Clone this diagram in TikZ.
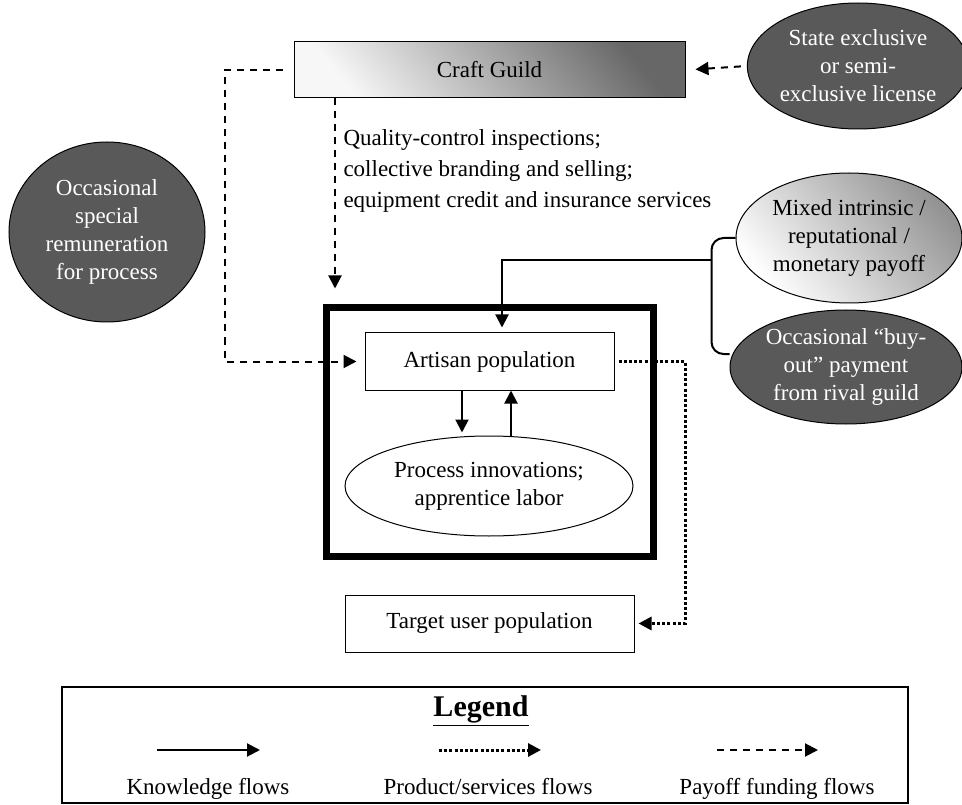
\documentclass[tikz,border=0pt]{standalone}
\usepackage{fontspec}
\setmainfont{Liberation Serif}
\usetikzlibrary{arrows.meta,positioning,shapes.geometric}

\definecolor{ovalgray}{HTML}{595959}
\definecolor{shadedark}{HTML}{676767}
\definecolor{shadelight}{HTML}{F7F7F7}

\newcommand{\legul}[1]{\vtop{\hbox{#1}\kern1.5pt\hrule height 1.6pt}}

\tikzset{
  txt/.style={font=\fontsize{23}{28}\selectfont, align=center},
  plainbox/.style={draw, line width=1pt, inner sep=0pt, txt},
  craftbox/.style={plainbox, top color=shadedark, bottom color=shadelight, shading angle=-50},
  darkoval/.style={ellipse, draw, line width=1pt, inner sep=0pt, fill=ovalgray, text=white, txt},
  lightoval/.style={ellipse, draw, line width=1pt, inner sep=0pt, txt},
  shadeoval/.style={lightoval, top color=gray!85, bottom color=white, shading angle=-50},
  frame/.style={draw, line width=7pt, inner sep=0pt},
  tip/.style={-{Triangle[length=13pt,width=13pt]}},
  knowledge/.style={line width=2pt, tip},
  product/.style={line width=3pt, dash pattern=on 3pt off 2.2pt, tip},
  payoff/.style={line width=2pt, dash pattern=on 7pt off 6pt, tip},
  leglabel/.style={txt, anchor=base}
}

\begin{document}
\begin{tikzpicture}[x=1pt,y=-1pt]
\useasboundingbox (0,0) rectangle (962,805);

% main boxes
\node[frame, minimum width=327pt, minimum height=248pt] (frame) at (489.5,432) {};
\node[craftbox, minimum width=391pt, minimum height=56pt] (craft) at (489.5,70) {Craft Guild};
\node[plainbox, minimum width=249pt, minimum height=57pt] (artisan) at (489.5,361.5) {Artisan population};
\node[lightoval, minimum width=288pt, minimum height=100pt] (process) at (489,486) {Process innovations;\\apprentice labor};
\node[plainbox, minimum width=289pt, minimum height=57pt] (target) at (489.5,623.5) {Target user population};

% payoff ovals
\node[darkoval, minimum width=210pt, minimum height=126pt] (state) at (858,66) {State exclusive\\or semi-\\exclusive license};
\node[darkoval, minimum width=196pt, minimum height=180pt] (special) at (107,232) {Occasional\\special\\remuneration\\for process};
\node[shadeoval, minimum width=226pt, minimum height=130pt] (mixed) at (849,238) {Mixed intrinsic /\\reputational /\\monetary payoff};
\node[darkoval, minimum width=232pt, minimum height=114pt] (buyout) at (846,367) {Occasional ``buy-\\out'' payment\\from rival guild};

\node[txt, align=left, anchor=north west, font=\fontsize{23}{31}\selectfont] (services) at (340,126)
  {Quality-control inspections;\\collective branding and selling;\\equipment credit and insurance services};

% flows
\coordinate (bend) at (225,70);
\coordinate (drop) at (335,98);
\coordinate (brace) at (712,260);
\draw[payoff, shorten <=6pt, shorten >=10pt] (state.west) -- (craft.east);
\draw[payoff, shorten <=11pt, shorten >=8pt] (craft.west) -- (bend) |- (artisan.west);
\draw[payoff, shorten >=16pt] (drop) -- (drop |- frame.north);
\draw[line width=2pt, rounded corners=12pt] (mixed.west) -- ++(-24,0) |- ([yshift=13pt]buyout.west);
\draw[knowledge, shorten >=5pt] (brace) -| ([xshift=12.5pt]artisan.north);
\draw[knowledge, shorten >=3pt] ([xshift=-27.5pt]artisan.south) -- ([xshift=-27.5pt]artisan.south |- process.north);
\draw[knowledge] ([xshift=21.5pt]artisan.south |- process.north) -- ([xshift=21.5pt]artisan.south);
\draw[product, shorten <=4pt, shorten >=4pt] (artisan.east) -- (685,361.5) |- (target.east);

% legend
\node[draw, line width=1.5pt, minimum width=846pt, minimum height=116pt, inner sep=0pt] (legend) at (485,745) {};
\node[font=\fontsize{30}{32}\selectfont\bfseries] (legtitle) at (481,711) {\legul{Legend}};
\node[leglabel] (klabel) at (208,794) {Knowledge flows};
\node[leglabel] (plabel) at (488,794) {Product/services flows};
\node[leglabel] (flabel) at (777,794) {Payoff funding flows};
\coordinate (k1) at (157,750); \coordinate (k2) at (260,750);
\coordinate (p1) at (439,750); \coordinate (p2) at (541,750);
\coordinate (f1) at (717,750); \coordinate (f2) at (818,750);
\draw[knowledge] (k1) -- (k2);
\draw[product] (p1) -- (p2);
\draw[payoff] (f1) -- (f2);
\end{tikzpicture}
\end{document}
